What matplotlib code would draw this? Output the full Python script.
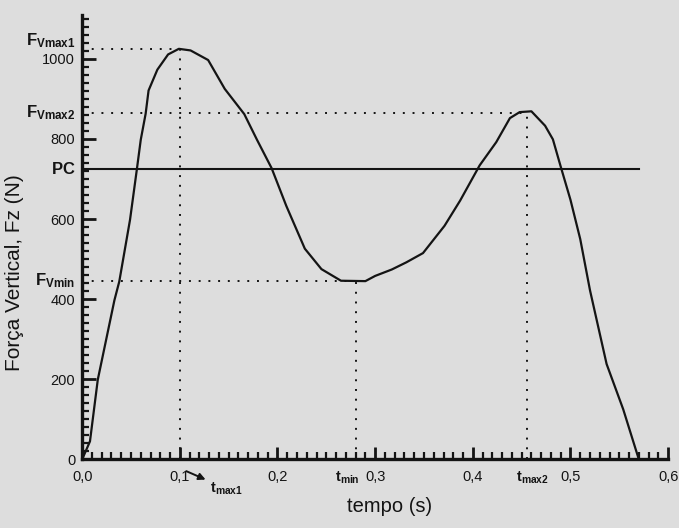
import numpy as np
from matplotlib import pyplot as plt
from matplotlib import transforms
from matplotlib.ticker import MultipleLocator

# vertical ground reaction force during walking
tempo = [0.0, 0.008, 0.016, 0.033, 0.038, 0.049, 0.056, 0.060, 0.065, 0.068, 0.077,
         0.088, 0.099, 0.111, 0.129, 0.146, 0.166, 0.179, 0.194, 0.209, 0.228,
         0.245, 0.265, 0.290, 0.300, 0.317, 0.332, 0.349, 0.371, 0.387, 0.407,
         0.424, 0.438, 0.448, 0.460, 0.474, 0.482, 0.490, 0.500, 0.510, 0.520,
         0.537, 0.554, 0.570]
forca = [0, 45, 199, 397, 444, 598, 724, 798, 863, 921, 973,
         1011, 1025, 1021, 997, 925, 862, 798, 727, 633, 526,
         475, 446, 445, 458, 474, 492, 515, 583, 646, 734,
         792, 852, 867, 869, 833, 799, 731, 648, 550, 422,
         238, 125, 0]

# characteristic values
fv_max1, t_max1 = 1025, 0.100
fv_max2, t_max2 = 865, 0.455
fv_min, t_min = 445, 0.280
peso_corporal = 725
t_fim_pc = 0.57

y_ticks = [0, 200, 400, 600, 800, 1000]
y_tick_labels = ["0", "200", "400", "600", "800", "1000"]
x_ticks = [0.0, 0.1, 0.2, 0.3, 0.4, 0.5, 0.6]
x_tick_labels = ["0,0", "0,1", "0,2", "0,3", "0,4", "0,5", "0,6"]

INK = "#141414"
PAPER = "#dddddd"


def setup_fonts() -> None:
    """Arial-like text and bold mathtext for the subscripted labels."""
    plt.rcParams["font.family"] = ["Liberation Sans", "DejaVu Sans"]
    plt.rcParams["mathtext.fontset"] = "custom"
    plt.rcParams["mathtext.rm"] = "Liberation Sans"
    plt.rcParams["mathtext.bf"] = "Liberation Sans:bold"
    plt.rcParams["mathtext.it"] = "Liberation Sans:italic"


def draw_guides(ax) -> None:
    """Dotted lines marking the peaks and the valley, plus the body weight line."""
    dotted = dict(color=INK, linestyle=(0, (1, 4)), linewidth=1.4)
    for t, f in [(t_max1, fv_max1), (t_max2, fv_max2), (t_min, fv_min)]:
        ax.plot([0, t], [f, f], **dotted)
        ax.plot([t, t], [0, f], **dotted)
    ax.plot([0, t_fim_pc], [peso_corporal, peso_corporal], color=INK, linewidth=1.5)


def label_axes(ax) -> None:
    ylab = transforms.blended_transform_factory(ax.transAxes, ax.transData)
    special = [(fv_max1 + 20, r"$\mathbf{F_{Vmax1}}$"),
               (fv_max2, r"$\mathbf{F_{Vmax2}}$"),
               (peso_corporal, r"$\mathbf{PC}$"),
               (fv_min, r"$\mathbf{F_{Vmin}}$")]
    for val, txt in special:
        ax.text(-0.012, val, txt, transform=ylab, ha="right", va="center",
                fontsize=12, color=INK)

    xlab = transforms.blended_transform_factory(ax.transData, ax.transAxes)
    ax.text(t_min - 0.008, -0.042, r"$\mathbf{t_{min}}$", transform=xlab,
            ha="center", va="center", fontsize=10.5, color=INK)
    ax.text(t_max2 + 0.006, -0.042, r"$\mathbf{t_{max2}}$", transform=xlab,
            ha="center", va="center", fontsize=10.5, color=INK)
    ax.text(0.131, -0.066, r"$\mathbf{t_{max1}}$", transform=xlab,
            ha="left", va="center", fontsize=10.5, color=INK)
    ax.annotate("", xy=(0.129, -0.048), xycoords=xlab,
                xytext=(0.104, -0.024), textcoords=xlab,
                arrowprops=dict(arrowstyle="-|>", color=INK, lw=1.4,
                                mutation_scale=10))


def main():
    setup_fonts()
    fig = plt.figure(figsize=(6.79, 5.28), dpi=100, facecolor=PAPER)
    ax = fig.add_axes([0.121, 0.13, 0.863, 0.842])
    ax.set_facecolor(PAPER)

    draw_guides(ax)
    ax.plot(tempo, forca, color=INK, linewidth=1.6)

    ax.set_xlim(0, 0.6)
    ax.set_ylim(0, 1110)
    for side in ["top", "right"]:
        ax.spines[side].set_visible(False)
    for side in ["left", "bottom"]:
        ax.spines[side].set_linewidth(2.4)
        ax.spines[side].set_color(INK)

    ax.set_xticks(x_ticks)
    ax.set_xticklabels(x_tick_labels)
    ax.set_yticks(y_ticks)
    ax.set_yticklabels(y_tick_labels)
    ax.xaxis.set_minor_locator(MultipleLocator(0.01))
    ax.yaxis.set_minor_locator(MultipleLocator(20))
    ax.tick_params(which="major", direction="in", length=10, width=2,
                   color=INK, labelcolor=INK, labelsize=10.5)
    ax.tick_params(which="minor", direction="in", length=5, width=1.6, color=INK)
    ax.tick_params(axis="x", which="major", pad=8, length=9)
    ax.tick_params(axis="y", which="major", pad=5)

    ax.set_ylabel("Força Vertical, Fz (N)", fontsize=15, color=INK)
    ax.yaxis.set_label_coords(-0.1, 0.42)
    ax.set_xlabel("tempo (s)", fontsize=14.5, color=INK)
    ax.xaxis.set_label_coords(0.525, -0.085)

    label_axes(ax)

    fig.savefig("out.png", dpi=100, facecolor=PAPER)


if __name__ == "__main__":
    main()
